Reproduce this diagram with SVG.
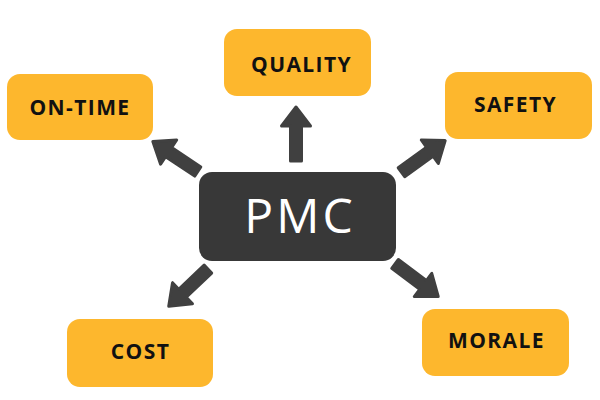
<svg xmlns="http://www.w3.org/2000/svg" xmlns:xlink="http://www.w3.org/1999/xlink" width="600" height="400" viewBox="0 0 600 400">
<style>
.box{fill:#FDB72D}
.lbl{font-family:"Open Sans","Liberation Sans",sans-serif;font-weight:700;font-size:21px;letter-spacing:1.4px;fill:#111;text-anchor:middle}
.hub{fill:#383838}
.hubt{font-family:"Open Sans","Liberation Sans",sans-serif;font-weight:500;font-size:48px;letter-spacing:3px;fill:#fff;text-anchor:middle}
.arr{fill:#404040;stroke:#404040;stroke-width:3;stroke-linejoin:round}
</style>
<defs>
<path id="ar" d="M-1,0 L-20,-14.5 L-20,-5.5 L-55,-5.5 L-55,5.5 L-20,5.5 L-20,14.5 Z"/>
</defs>
<rect width="600" height="400" fill="#fff"/>
<g id="connectors">
<use xlink:href="#ar" class="arr" transform="translate(296,106) rotate(-90)"/>
<use xlink:href="#ar" class="arr" transform="translate(152,141) rotate(-146.3)"/>
<use xlink:href="#ar" class="arr" transform="translate(446,140) rotate(-35.9)"/>
<use xlink:href="#ar" class="arr" transform="translate(168,307) rotate(136.5)"/>
<use xlink:href="#ar" class="arr" transform="translate(439,297) rotate(37)"/>
</g>
<g id="pmc"><rect class="hub" x="199" y="172" width="197" height="89" rx="13"/><text class="hubt" x="300" y="233">PMC</text></g>
<g id="on-time"><rect class="box" x="7" y="74" width="146" height="66" rx="13"/><text class="lbl" x="80" y="115">ON-TIME</text></g>
<g id="quality"><rect class="box" x="224" y="29" width="147" height="67" rx="13"/><text class="lbl" x="301.5" y="72">QUALITY</text></g>
<g id="safety"><rect class="box" x="445" y="72" width="147" height="67" rx="13"/><text class="lbl" x="515.5" y="112">SAFETY</text></g>
<g id="cost"><rect class="box" x="67" y="319" width="146" height="68" rx="13"/><text class="lbl" x="140.5" y="359">COST</text></g>
<g id="morale"><rect class="box" x="422" y="309" width="147" height="67" rx="13"/><text class="lbl" x="496.5" y="348">MORALE</text></g>
</svg>
